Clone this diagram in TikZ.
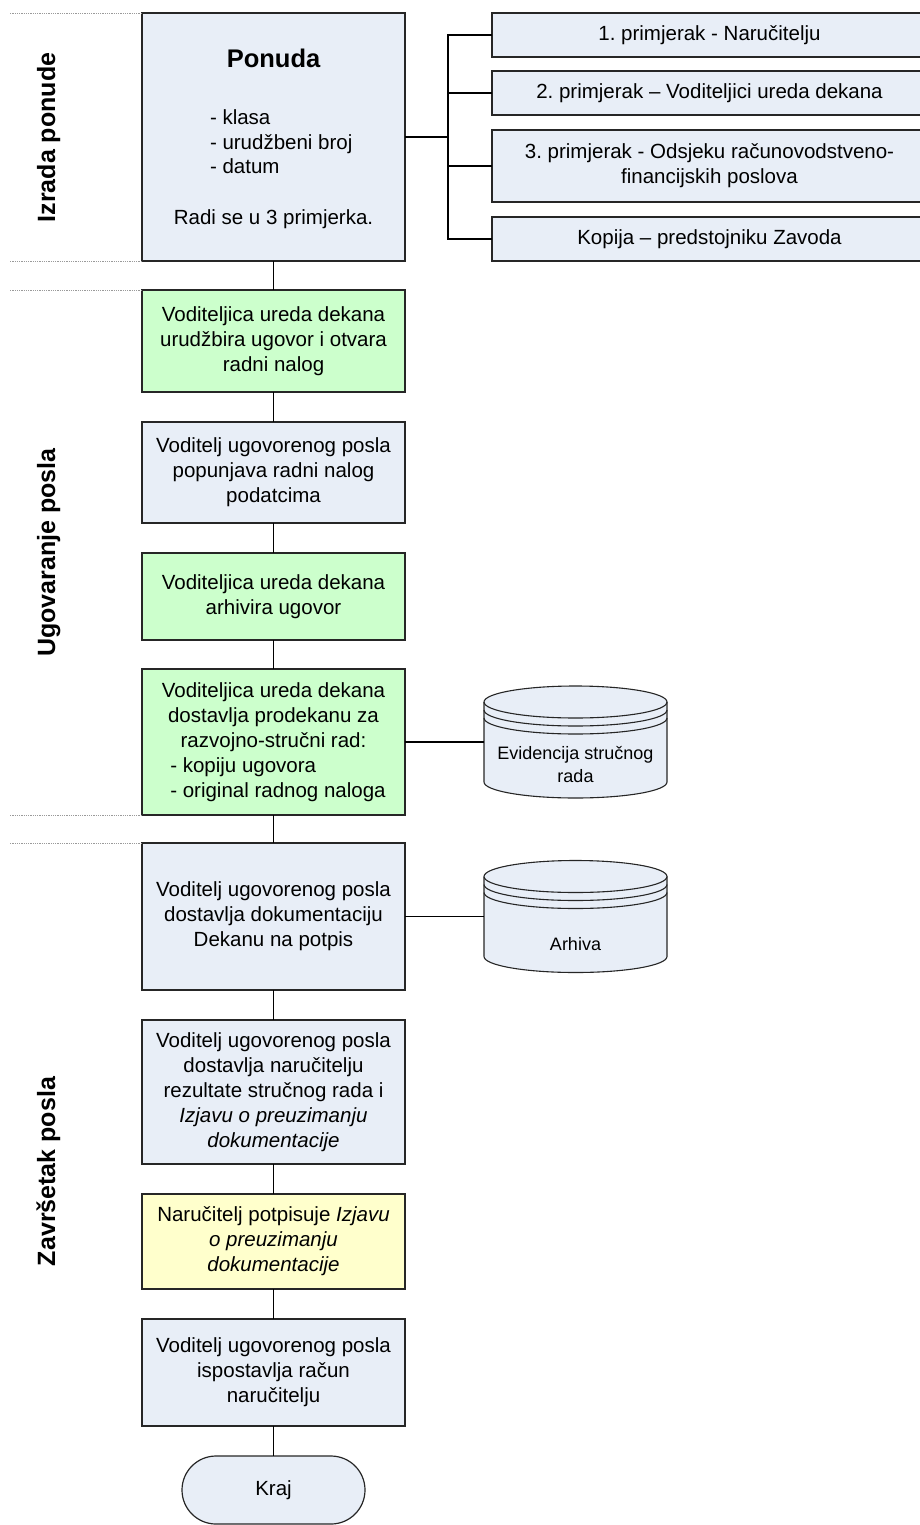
\documentclass[tikz,border=0pt]{standalone}
\usepackage{fontspec}
\setmainfont{Liberation Sans}
\usepackage{calc}
\usetikzlibrary{calc}
\frenchspacing

\definecolor{boxblue}{HTML}{E8EEF7}
\definecolor{boxgreen}{HTML}{CCFFCC}
\definecolor{boxyellow}{HTML}{FFFFCC}
\definecolor{edge}{HTML}{262626}
\definecolor{sepgray}{HTML}{9A9A9A}

\newcommand{\bodyfont}{\fontsize{20.5}{25}\selectfont}

% cylinder outline for a data store, drawn around a named placeholder node
\newcommand{\drumshape}[1]{%
  \fill[dbfill] (#1.north west) -- (#1.south west)
    arc[start angle=180, end angle=360, x radius=91.5pt, y radius=16pt]
    -- (#1.north east)
    arc[start angle=0, end angle=180, x radius=91.5pt, y radius=16pt] -- cycle;
  \draw[dbline] (#1.north) ellipse[x radius=91.5pt, y radius=16pt];
  \draw[dbline] ([yshift=-8pt]#1.north west) arc[start angle=180, end angle=360, x radius=91.5pt, y radius=16pt];
  \draw[dbline] ([yshift=-16pt]#1.north west) arc[start angle=180, end angle=360, x radius=91.5pt, y radius=16pt];
  \draw[dbline] (#1.north west) -- (#1.south west)
    arc[start angle=180, end angle=360, x radius=91.5pt, y radius=16pt]
    -- (#1.north east);
}

\begin{document}
\begin{tikzpicture}[x=1pt,y=-1pt,
  every node/.style={inner sep=0pt, outer sep=0pt},
  box/.style={draw=edge, line width=1.2pt, minimum width=263pt, align=center, font=\bodyfont},
  bluebox/.style={box, fill=boxblue},
  greenbox/.style={box, fill=boxgreen},
  yellowbox/.style={box, fill=boxyellow},
  copybox/.style={draw=edge, line width=1.2pt, fill=boxblue, minimum width=435pt, align=center, font=\bodyfont},
  link/.style={draw=black, line width=1.1pt},
  sepline/.style={draw=sepgray, line width=0.8pt, densely dotted},
  phase/.style={rotate=90, anchor=base, font=\fontsize{25}{30}\selectfont\bfseries},
  dbfill/.style={fill=boxblue},
  dbline/.style={draw=edge, line width=1.1pt},
  dbtext/.style={align=center, font=\fontsize{18}{23}\selectfont},
  term/.style={draw=edge, line width=1.2pt, fill=boxblue, rounded corners=34pt, minimum width=183pt, minimum height=68pt, font=\bodyfont},
]
\useasboundingbox (0,0) rectangle (920,1525);

% ---- phase labels ----
\node[phase] (ph1) at (55,137.5) {Izrada ponude};
\node[phase] (ph2) at (55,552.5) {Ugovaranje posla};
\node[phase] (ph3) at (55,1171.5) {Završetak posla};

% ---- offer box ----
\node[bluebox, minimum height=248pt] (ponuda) at (273.5,137) {};
\node[anchor=base, font=\fontsize{25.5}{30}\selectfont\bfseries] (ptitle) at (273.5,68) {Ponuda};
\node[anchor=base west, font=\bodyfont] (pl1) at (210,125) {- klasa};
\node[anchor=base west, font=\bodyfont] (pl2) at (210,150) {- urudžbeni broj};
\node[anchor=base west, font=\bodyfont] (pl3) at (210,174) {- datum};
\node[anchor=base, font=\bodyfont] (pnote) at (273.5,224) {Radi se u 3 primjerka.};

% ---- copies ----
\node[copybox, minimum height=44pt] (r1) at (709.5,35) {1. primjerak - Naručitelju};
\node[copybox, minimum height=44pt] (r2) at (709.5,93) {2. primjerak – Voditeljici ureda dekana};
\node[copybox, minimum height=72pt] (r3) at (709.5,166) {3. primjerak - Odsjeku računovodstveno-\\financijskih poslova};
\node[copybox, minimum height=44pt] (r4) at (709.5,239) {Kopija – predstojniku Zavoda};

\coordinate (bus) at (448,137);
\draw[link] (ponuda.east) -- (bus);
\draw[link] (r1.west) -| (bus);
\draw[link] (r2.west) -| (bus);
\draw[link] (r3.west) -| (bus);
\draw[link] (r4.west) -| (bus);

% ---- process steps ----
\node[greenbox, minimum height=102pt] (b1) at (273.5,341) {Voditeljica ureda dekana\\urudžbira ugovor i otvara\\radni nalog};
\node[bluebox, minimum height=101pt] (b2) at (273.5,472.5) {Voditelj ugovorenog posla\\popunjava radni nalog\\podatcima};
\node[greenbox, minimum height=87pt] (b3) at (273.5,596.5) {Voditeljica ureda dekana\\arhivira ugovor};
\node[greenbox, minimum height=146pt] (b4) at (273.5,742) {Voditeljica ureda dekana\\dostavlja prodekanu za\\razvojno-stručni rad:\\\hspace*{9pt}\makebox[\widthof{- original radnog naloga}][l]{- kopiju ugovora}\\\hspace*{9pt}- original radnog naloga};
\node[bluebox, minimum height=147pt] (b5) at (273.5,916.5) {Voditelj ugovorenog posla\\dostavlja dokumentaciju\\Dekanu na potpis};
\node[bluebox, minimum height=144pt] (b6) at (273.5,1092) {Voditelj ugovorenog posla\\dostavlja naručitelju\\rezultate stručnog rada i\\\textit{Izjavu o preuzimanju}\\\textit{dokumentacije}};
\node[yellowbox, minimum height=95pt] (b7) at (273.5,1241.5) {Naručitelj potpisuje \textit{Izjavu}\\\textit{o preuzimanju}\\\textit{dokumentacije}};
\node[bluebox, minimum height=107pt] (b8) at (273.5,1372.5) {Voditelj ugovorenog posla\\ispostavlja račun\\naručitelju};
\node[term] (kraj) at (273.5,1490) {Kraj};

\draw[link] (ponuda) -- (b1);
\draw[link] (b1) -- (b2);
\draw[link] (b2) -- (b3);
\draw[link] (b3) -- (b4);
\draw[link] (b4) -- (b5);
\draw[link] (b5) -- (b6);
\draw[link] (b6) -- (b7);
\draw[link] (b7) -- (b8);
\draw[link] (b8) -- (kraj);

% ---- phase separators ----
\draw[sepline] (ponuda.north west) -- ++(-132,0);
\draw[sepline] (ponuda.south west) -- ++(-132,0);
\draw[sepline] (b1.north west) -- ++(-132,0);
\draw[sepline] (b4.south west) -- ++(-132,0);
\draw[sepline] (b5.north west) -- ++(-132,0);

% ---- data stores ----
\node[minimum width=183pt, minimum height=80pt] (evid) at (575.5,742) {};
\drumshape{evid}
\node[dbtext] (evidtext) at (575.5,765) {Evidencija stručnog\\rada};
\node[minimum width=183pt, minimum height=80pt] (arh) at (575.5,916.5) {};
\drumshape{arh}
\node[dbtext] (arhtext) at (575.5,944) {Arhiva};

\draw[link] (b4.east) -- (evid.west);
\draw[link] (b5.east) -- (arh.west);
\end{tikzpicture}
\end{document}
